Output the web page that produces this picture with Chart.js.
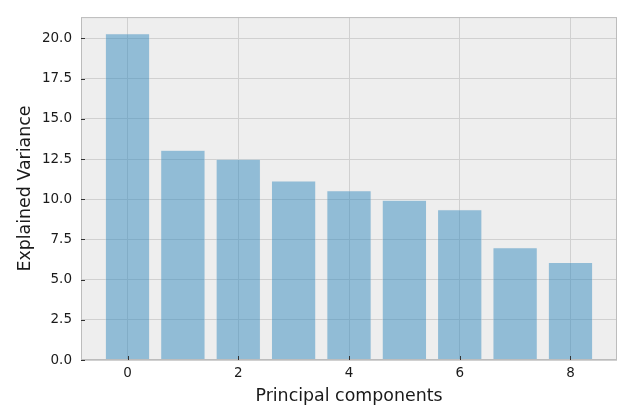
<!DOCTYPE html>
<html>
<head>
<meta charset="utf-8">
<script src="https://cdn.jsdelivr.net/npm/chart.js@4"></script>
<style>
html,body{margin:0;padding:0;background:#ffffff;}
#wrap{width:640px;height:418px;position:relative;}
</style>
</head>
<body>
<div id="wrap"><canvas id="c" width="640" height="418"></canvas></div>
<script>
const components = [0, 1, 2, 3, 4, 5, 6, 7, 8];
const explainedVariance = [20.29, 13.04, 12.48, 11.13, 10.53, 9.93, 9.35, 6.98, 6.07];
const xTicks = [0, 2, 4, 6, 8];
const yTicks = [0, 2.5, 5, 7.5, 10, 12.5, 15, 17.5, 20];
const xLabel = 'Principal components';
const yLabel = 'Explained Variance';

const FONT = "'DejaVu Sans', sans-serif";

const framePlugin = {
  id: 'frame',
  beforeDraw(chart) {
    const {ctx, chartArea: a} = chart;
    ctx.save();
    ctx.fillStyle = '#eeeeee';
    ctx.fillRect(a.left, a.top, a.right - a.left, a.bottom - a.top);
    ctx.restore();
  },
  afterDatasetsDraw(chart) {
    const {ctx, chartArea: a, scales} = chart;
    ctx.save();
    ctx.strokeStyle = '#bcbcbc';
    ctx.lineWidth = 1;
    ctx.strokeRect(a.left + 0.5, a.top + 0.5, a.right - a.left - 1, a.bottom - a.top - 1);
    ctx.strokeStyle = '#333333';
    ctx.lineWidth = 1;
    ctx.beginPath();
    scales.x.ticks.forEach(t => {
      const px = Math.round(scales.x.getPixelForValue(t.value)) + 0.5;
      ctx.moveTo(px, a.bottom);
      ctx.lineTo(px, a.bottom - 4);
    });
    scales.y.ticks.forEach(t => {
      const py = Math.round(scales.y.getPixelForValue(t.value)) + 0.5;
      ctx.moveTo(a.left, py);
      ctx.lineTo(a.left + 4, py);
    });
    ctx.stroke();
    ctx.restore();
  }
};

new Chart(document.getElementById('c'), {
  type: 'bar',
  data: {
    datasets: [{
      data: components.map((c, i) => ({x: c, y: explainedVariance[i]})),
      backgroundColor: 'rgba(52,138,189,0.5)',
      borderColor: 'rgba(238,238,238,0.6)',
      borderWidth: 0.5,
      categoryPercentage: 1.0,
      barPercentage: 0.8
    }]
  },
  options: {
    responsive: false,
    animation: false,
    devicePixelRatio: 1,
    layout: {padding: {top: 17, right: 23, left: 0, bottom: 0}},
    plugins: {legend: {display: false}, tooltip: {enabled: false}},
    scales: {
      x: {
        type: 'linear',
        offset: false,
        min: -0.84,
        max: 8.84,
        afterBuildTicks: s => { s.ticks = xTicks.map(v => ({value: v})); },
        afterFit: s => { s.height = 58; },
        grid: {color: '#d0d0d0', lineWidth: 1, drawTicks: false, offset: false},
        border: {display: false},
        ticks: {
          padding: 5,
          color: '#1a1a1a',
          font: {family: FONT, size: 13.5},
          callback: v => String(v)
        },
        title: {
          display: true,
          text: xLabel,
          color: '#1a1a1a',
          font: {family: FONT, size: 17.4},
          padding: {top: 0, bottom: 11}
        }
      },
      y: {
        type: 'linear',
        min: 0,
        max: 21.33,
        afterBuildTicks: s => { s.ticks = yTicks.map(v => ({value: v})); },
        afterFit: s => { s.width = 81; },
        grid: {color: '#d0d0d0', lineWidth: 1, drawTicks: false},
        border: {display: false},
        ticks: {
          padding: 9,
          color: '#1a1a1a',
          font: {family: FONT, size: 13.5},
          callback: v => Number(v).toFixed(1)
        },
        title: {
          display: true,
          text: yLabel,
          color: '#1a1a1a',
          font: {family: FONT, size: 17.4},
          padding: {top: 15, bottom: 0}
        }
      }
    }
  },
  plugins: [framePlugin]
});
</script>
</body>
</html>
